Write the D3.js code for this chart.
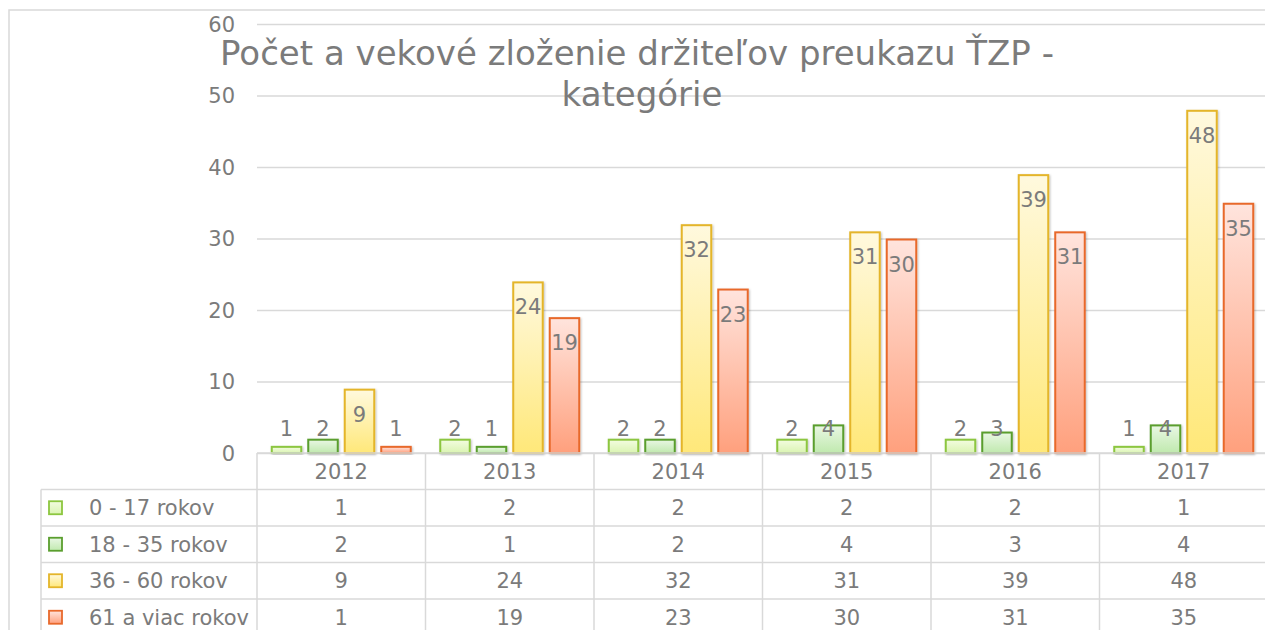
<!DOCTYPE html>
<html>
<head>
<meta charset="utf-8">
<script src="https://cdn.jsdelivr.net/npm/d3@7/dist/d3.min.js"></script>
<style>
  html, body { margin: 0; padding: 0; background: #fff; overflow: hidden; }
  svg { display: block; font-family: "DejaVu Sans", sans-serif; }
</style>
</head>
<body>
<svg id="chart" width="1265" height="630"></svg>
<script>
// Data: holders of the ŤZP card by age group and year
const years = ["2012", "2013", "2014", "2015", "2016", "2017"];
const seriesNames = ["0 - 17 rokov", "18 - 35 rokov", "36 - 60 rokov", "61 a viac rokov"];
const age0to17 = [1, 2, 2, 2, 2, 1];
const age18to35 = [2, 1, 2, 4, 3, 4];
const age36to60 = [9, 24, 32, 31, 39, 48];
const age61plus = [1, 19, 23, 30, 31, 35];
const yTicks = [0, 10, 20, 30, 40, 50, 60];
const titleLines = ["Počet a vekové zloženie držiteľov preukazu ŤZP -", "kategórie"];

const seriesValues = [age0to17, age18to35, age36to60, age61plus];
const seriesStyles = [
  { stroke: "#8cc63f", top: "#f3fce0", bottom: "#daf4b2" },
  { stroke: "#5a9e2e", top: "#e9f7e4", bottom: "#c0e9ae" },
  { stroke: "#e4b52a", top: "#fff9de", bottom: "#ffe879" },
  { stroke: "#e8692c", top: "#ffe4dd", bottom: "#ffa07d" }
];

const textColor = "#7b7b7b";
const gridColor = "#d9d9d9";
const numSize = 21;
const nameSize = 21;

const svg = d3.select("#chart");
const defs = svg.append("defs");

seriesStyles.forEach((s, i) => {
  const g = defs.append("linearGradient")
    .attr("id", "grad" + i).attr("x1", 0).attr("y1", 0).attr("x2", 0).attr("y2", 1);
  g.append("stop").attr("offset", "0%").attr("stop-color", s.top);
  g.append("stop").attr("offset", "100%").attr("stop-color", s.bottom);
});

const shadow = defs.append("filter").attr("id", "barShadow")
  .attr("x", "-20%").attr("y", "-20%").attr("width", "140%").attr("height", "140%");
shadow.append("feDropShadow")
  .attr("dx", 1).attr("dy", 1).attr("stdDeviation", 1.2)
  .attr("flood-color", "#000").attr("flood-opacity", 0.25);

// Layout
const plotLeft = 257, plotRight = 1268;
const plotTop = 24, plotBottom = 453;
const legendLeft = 41;
const rowHeight = 36.5;

// Outer chart frame
svg.append("rect")
  .attr("x", 9).attr("y", 10).attr("width", 1300).attr("height", 700)
  .attr("fill", "none").attr("stroke", gridColor).attr("stroke-width", 1.5);

// Scales
const x0 = d3.scaleBand().domain(years).range([plotLeft, plotRight]).padding(0);
const x1 = d3.scaleBand().domain(d3.range(seriesNames.length))
  .range([0, x0.bandwidth()]).paddingInner(0.137).paddingOuter(0.377);
const y = d3.scaleLinear().domain([0, 60]).range([plotBottom, plotTop]);

// Gridlines and y tick labels
const yAxis = d3.axisLeft(y).tickValues(yTicks).tickSize(0).tickPadding(0);
const yg = svg.append("g").attr("transform", `translate(${plotLeft},0)`).call(yAxis);
yg.select(".domain").remove();
yg.selectAll(".tick line")
  .attr("x2", plotRight - plotLeft).attr("stroke", gridColor).attr("stroke-width", 1.5);
yg.selectAll(".tick text")
  .attr("x", -22).attr("dy", "0.35em")
  .attr("fill", textColor).attr("font-size", numSize)
  .attr("font-family", "DejaVu Sans, sans-serif");

// Title
const title = svg.append("text")
  .attr("fill", textColor).attr("font-size", 34).attr("text-anchor", "middle");
title.append("tspan").attr("x", 637).attr("y", 65).text(titleLines[0]);
title.append("tspan").attr("x", 642).attr("y", 106).text(titleLines[1]);

// Bars
const groups = svg.append("g").selectAll("g")
  .data(years).join("g")
  .attr("transform", d => `translate(${x0(d)},0)`);

const sw = 2;
groups.selectAll("rect")
  .data((d, yi) => seriesValues.map((vals, si) => ({ si, v: vals[yi] })))
  .join("rect")
  .attr("x", d => x1(d.si) + sw / 2)
  .attr("y", d => y(d.v) + sw / 2)
  .attr("width", x1.bandwidth() - sw)
  .attr("height", d => y(0) - y(d.v) - sw / 2)
  .attr("fill", d => `url(#grad${d.si})`)
  .attr("stroke", d => seriesStyles[d.si].stroke)
  .attr("stroke-width", sw)
  .attr("filter", "url(#barShadow)");

// Value labels at the inside end of each bar
groups.selectAll("text.value")
  .data((d, yi) => seriesValues.map((vals, si) => ({ si, v: vals[yi] })))
  .join("text")
  .attr("class", "value")
  .attr("x", d => x1(d.si) + x1.bandwidth() / 2)
  .attr("y", d => Math.min(y(d.v) + 33, 436))
  .attr("text-anchor", "middle")
  .attr("fill", textColor).attr("font-size", numSize)
  .text(d => d.v);

// Data table under the plot
const rows = d3.scaleBand().domain(["header", ...d3.range(seriesNames.length)])
  .range([plotBottom, plotBottom + rowHeight * 5]);

const table = svg.append("g").attr("stroke", gridColor).attr("stroke-width", 1.5);
// horizontal rules
table.append("line")
  .attr("x1", plotLeft).attr("x2", plotRight)
  .attr("y1", plotBottom).attr("y2", plotBottom);
d3.range(seriesNames.length).forEach(i => {
  table.append("line")
    .attr("x1", legendLeft).attr("x2", plotRight)
    .attr("y1", rows(i)).attr("y2", rows(i));
});
// vertical rules
table.append("line")
  .attr("x1", legendLeft).attr("x2", legendLeft)
  .attr("y1", rows(0)).attr("y2", 640);
years.forEach(yr => {
  table.append("line")
    .attr("x1", x0(yr)).attr("x2", x0(yr))
    .attr("y1", plotBottom).attr("y2", 640);
});

// header years
svg.append("g").selectAll("text")
  .data(years).join("text")
  .attr("x", d => x0(d) + x0.bandwidth() / 2)
  .attr("y", rows("header") + rowHeight / 2)
  .attr("dy", "0.35em")
  .attr("text-anchor", "middle")
  .attr("fill", textColor).attr("font-size", numSize)
  .text(d => d);

// legend keys and series names
const legendRows = svg.append("g").selectAll("g")
  .data(seriesNames).join("g")
  .attr("transform", (d, i) => `translate(0,${rows(i) + rowHeight / 2})`);
legendRows.append("rect")
  .attr("x", 49).attr("y", -6.5).attr("width", 13).attr("height", 13)
  .attr("fill", (d, i) => `url(#grad${i})`)
  .attr("stroke", (d, i) => seriesStyles[i].stroke).attr("stroke-width", 1.8);
legendRows.append("text")
  .attr("x", 89).attr("dy", "0.35em")
  .attr("fill", textColor).attr("font-size", nameSize)
  .text(d => d);

// table values
seriesValues.forEach((vals, si) => {
  svg.append("g").selectAll("text")
    .data(vals).join("text")
    .attr("x", (d, yi) => x0(years[yi]) + x0.bandwidth() / 2)
    .attr("y", rows(si) + rowHeight / 2)
    .attr("dy", "0.35em")
    .attr("text-anchor", "middle")
    .attr("fill", textColor).attr("font-size", numSize)
    .text(d => d);
});
</script>
</body>
</html>
